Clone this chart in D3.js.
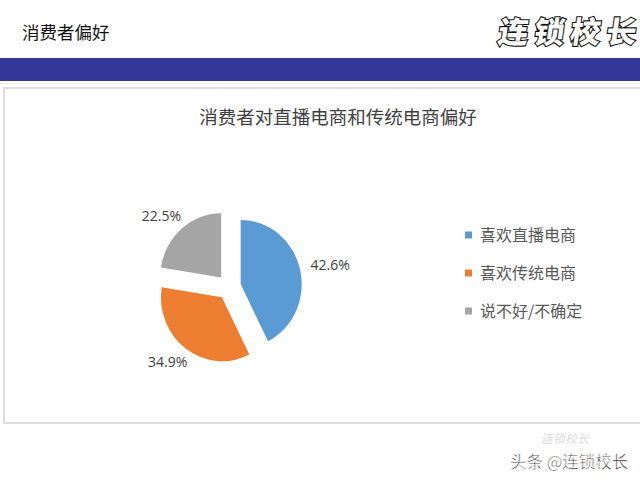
<!DOCTYPE html>
<html><head><meta charset="utf-8">
<script src="https://cdn.jsdelivr.net/npm/d3@7"></script>
<style>body{margin:0;background:#fff}svg{display:block}</style>
</head><body>
<svg id="c" width="640" height="480"></svg>
<script>
const pageTitle = "消费者偏好";
const logoText = ["连","锁","校","长"];
const chartTitle = "消费者对直播电商和传统电商偏好";
const categories = ["喜欢直播电商", "喜欢传统电商", "说不好/不确定"];
const values = [42.6, 34.9, 22.5];
const colors = ["#5B9BD5", "#ED7D31", "#A5A5A5"];
const footer = "头条 @连锁校长";

const svg = d3.select("#c");
const CJK = "'Noto Sans CJK SC', 'Noto Sans', sans-serif";

// header
svg.append("text").attr("x", 22).attr("y", 39).attr("font-family", CJK)
  .attr("font-size", 17.5).attr("fill", "#111").text(pageTitle);
const logo = svg.append("g").attr("font-family", CJK).attr("font-weight", 900)
  .attr("font-size", 30).attr("fill", "#fff").attr("stroke", "#111").attr("stroke-width", 2.2)
  .attr("paint-order", "stroke");
logo.selectAll("text").data(logoText).join("text")
  .attr("x", (d, i) => 512 + i * 36).attr("y", 43).attr("text-anchor", "middle")
  .attr("transform", `skewX(-8)`).attr("dx", 6)
  .text(d => d);

svg.append("rect").attr("x", 0).attr("y", 58).attr("width", 640).attr("height", 23).attr("fill", "#343797");
svg.append("line").attr("x1", 0).attr("x2", 640).attr("y1", 83.5).attr("y2", 83.5).attr("stroke", "#eef0f4");

// frame
svg.append("rect").attr("x", 4).attr("y", 88).attr("width", 650).attr("height", 335)
  .attr("fill", "#fff").attr("stroke", "#dedede").attr("stroke-width", 2);

// chart title
svg.append("text").attr("x", 338).attr("y", 124).attr("text-anchor", "middle")
  .attr("font-family", CJK).attr("font-size", 18.5).attr("fill", "#404040").text(chartTitle);

// pie
const cx = 229, cy = 287, r = 61, yScale = 1.05, explode = 12;
const pie = d3.pie().sort(null).value(d => d).startAngle(0).endAngle(2 * Math.PI);
const arcs = pie(values);
const arc = d3.arc().innerRadius(0).outerRadius(r);
const g = svg.append("g").attr("transform", `translate(${cx},${cy}) scale(1,${yScale})`);
g.selectAll("path").data(arcs).join("path")
  .attr("d", arc)
  .attr("fill", (d, i) => colors[i])
  .attr("transform", d => {
    const a = (d.startAngle + d.endAngle) / 2;
    return `translate(${Math.sin(a) * explode},${-Math.cos(a) * explode})`;
  });

const labelArc = d3.arc().innerRadius(100).outerRadius(100);
svg.append("g").selectAll("text").data(arcs).join("text")
  .attr("x", d => cx + labelArc.centroid(d)[0] * 1.04)
  .attr("y", d => cy + labelArc.centroid(d)[1] * 0.93)
  .attr("dy", "0.35em").attr("text-anchor", "middle")
  .attr("font-family", "'Open Sans', 'Liberation Sans', sans-serif").attr("font-size", 14)
  .attr("fill", "#404040")
  .text(d => d.data.toFixed(1) + "%");

// legend
const legY = d3.scalePoint().domain(categories).range([235, 311]);
const leg = svg.append("g").selectAll("g").data(categories).join("g")
  .attr("transform", d => `translate(465,${legY(d)})`);
leg.append("rect").attr("x", 0).attr("y", -3.5).attr("width", 7).attr("height", 7)
  .attr("fill", (d, i) => colors[i]);
leg.append("text").attr("x", 15).attr("dy", "0.36em").attr("font-family", CJK)
  .attr("font-size", 16).attr("fill", "#595959").text(d => d);

// footer watermark
svg.append("text").attr("x", 565).attr("y", 443).attr("text-anchor", "middle")
  .attr("font-family", CJK).attr("font-size", 12).attr("fill", "#dcdcdc")
  .attr("font-style", "italic").text("连锁校长");
svg.append("text").attr("x", 510).attr("y", 468).attr("font-family", CJK)
  .attr("font-size", 16.5).attr("fill", "#222").attr("stroke", "#fff").attr("stroke-width", 0.6)
  .text(footer);
</script>
</body></html>
